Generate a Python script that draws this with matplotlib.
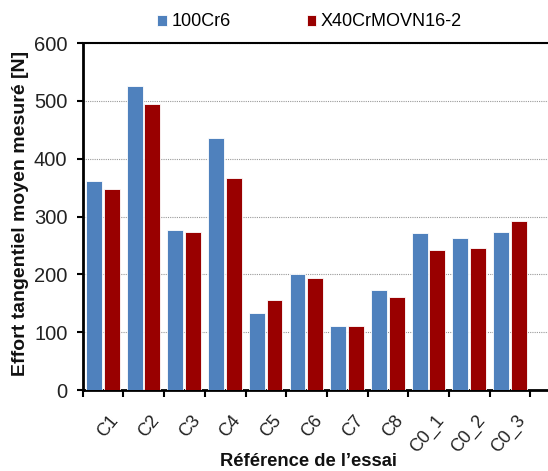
import matplotlib
matplotlib.use("Agg")
import matplotlib.pyplot as plt
import numpy as np

categories = ["C1", "C2", "C3", "C4", "C5", "C6", "C7", "C8", "C0_1", "C0_2", "C0_3"]
series_names = ["100Cr6", "X40CrMOVN16-2"]
vals_100cr6 = [361, 526, 276, 435, 133, 201, 111, 173, 272, 263, 273]
vals_x40 = [347, 495, 273, 366, 156, 193, 111, 160, 242, 246, 292]
yticks = [0, 100, 200, 300, 400, 500, 600]
colors = ["#4F81BD", "#990000"]

plt.rcParams['font.family'] = ['Liberation Sans', 'DejaVu Sans']

fig = plt.figure(figsize=(5.48, 4.71), dpi=100)
W, H = 548, 471
left_px, bottom_px, top_px = 82.7, 390, 43
cat_px = 40.7
ncat_view = 12
ax = fig.add_axes([left_px / W, (H - bottom_px) / H, cat_px * ncat_view / W, (bottom_px - top_px) / H])

x = np.arange(len(categories))
bw = 0.39
ax.bar(x + 0.278, vals_100cr6, width=bw, color=colors[0], edgecolor="white", linewidth=0.6,
       label=series_names[0], zorder=3)
ax.bar(x + 0.712, vals_x40, width=bw, color=colors[1], edgecolor="white", linewidth=0.6,
       label=series_names[1], zorder=3)

ax.set_xlim(0, ncat_view)
ax.set_ylim(0, 600)
ax.set_yticks(yticks)
ax.tick_params(axis='y', labelsize=14.5, length=4, width=1.5, direction='out', pad=7,
               labelcolor='#222222')
ax.set_xticks(np.arange(0, ncat_view + 1))
ax.set_xticklabels([])
ax.tick_params(axis='x', which='major', length=5, width=1.5, direction='out')
ax.set_xticks(x + 0.65, minor=True)
ax.set_xticklabels(categories, minor=True, rotation=50, ha='right', va='top',
                   rotation_mode='anchor', fontsize=13, color='#222222')
ax.tick_params(axis='x', which='minor', length=0, pad=16)

ax.yaxis.grid(True, color="#999999", linestyle=(0, (1, 1)), linewidth=0.8, zorder=0)
ax.set_axisbelow(True)

for s in ["left", "bottom"]:
    ax.spines[s].set_linewidth(2)
ax.spines["top"].set_linewidth(1.5)
ax.spines["right"].set_visible(False)

fig.text(21 / W, 1 - 213 / H, "Effort tangentiel moyen mesuré [N]", rotation=90,
         ha='center', va='center', fontsize=14, fontweight='bold', color='#111111')
fig.text(308 / W, 1 - 461 / H, "Référence de l’essai", ha='center', va='center',
         fontsize=13.2, fontweight='bold', color='#111111')

fig.legend(loc='center left', bbox_to_anchor=(157 / W, 1 - 22 / H), ncol=2, frameon=False,
           fontsize=13, handlelength=0.55, handleheight=0.55, handletextpad=0.25,
           columnspacing=4.2, borderaxespad=0, borderpad=0)

fig.savefig("out.png", dpi=100)
